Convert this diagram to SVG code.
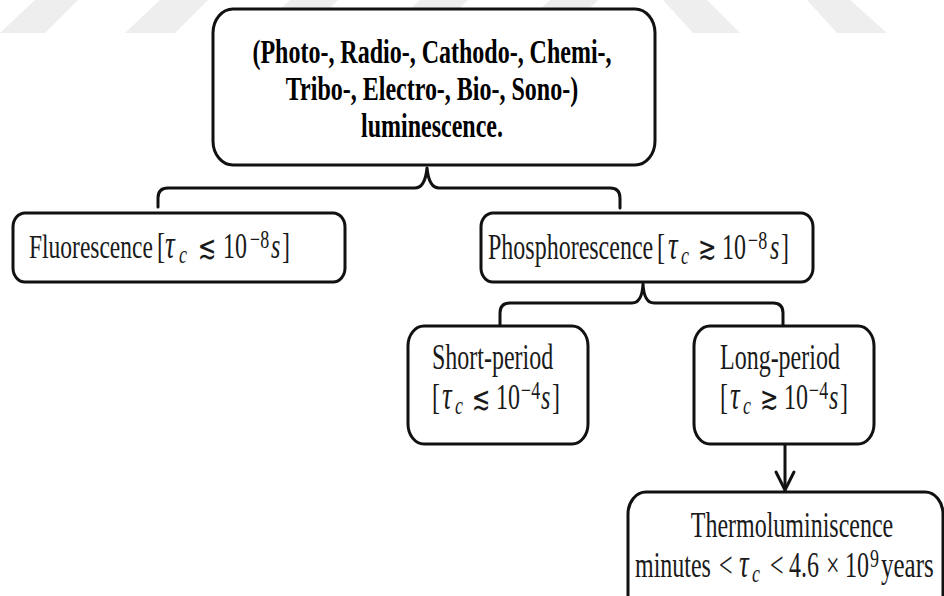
<svg xmlns="http://www.w3.org/2000/svg" width="944" height="596" viewBox="0 0 944 596">
<style>
.bg{fill:#ffffff}
.wm{fill:#eeeeee}
.box{fill:#ffffff;stroke:#111111;stroke-width:3}
.con{fill:none;stroke:#111111;stroke-width:3;stroke-linecap:round;stroke-linejoin:round}
.t{font-family:"Liberation Serif","DejaVu Serif",serif;font-size:24px;fill:#1a1a1a}
.b{font-weight:bold;fill:#000000}
.i{font-style:italic}
.tau{font-style:italic;font-size:27px}
.sub{font-size:18px;font-style:italic}
.sup{font-size:18px}
.rel{font-family:"DejaVu Sans",sans-serif;font-size:22px}
</style>
<rect class="bg" x="0" y="0" width="944" height="596"/>
<g id="watermark">
<polygon class="wm" points="35,0 78,0 45,33 0,33"/>
<polygon class="wm" points="160,0 208,0 175,33 125,33"/>
<polygon class="wm" points="290,0 338,0 305,33 255,33"/>
<polygon class="wm" points="420,0 468,0 435,33 385,33"/>
<polygon class="wm" points="550,0 598,0 565,33 515,33"/>
<polygon class="wm" points="663,0 707,0 740,33 693,33"/>
<polygon class="wm" points="807,0 850,0 887,33 837,33"/>
</g>
<g id="connectors">
<path class="con" d="M158,207 V198 Q158,188 168,188 H415 Q425,188 427,168 Q429,188 439,188 H610 Q620,188 620,198 V208"/>
<path class="con" d="M500,325 V313 Q500,303 510,303 H632 Q642,303 643,284 Q644,303 654,303 H773 Q783,303 783,313 V325"/>
<path class="con" d="M785,444 V490"/>
<path class="con" d="M776,472 L785,490 L794,472"/>
</g>
<g id="root">
<rect class="box" x="213" y="9" width="442" height="156" rx="20" ry="24"/>
<g transform="translate(432,63) scale(1,1.38)"><text class="t b" x="0" y="0" text-anchor="middle">(Photo-, Radio-, Cathodo-, Chemi-,</text></g>
<g transform="translate(432,100) scale(1,1.38)"><text class="t b" x="0" y="0" text-anchor="middle">Tribo-, Electro-, Bio-, Sono-)</text></g>
<g transform="translate(432,137) scale(1,1.38)"><text class="t b" x="0" y="0" text-anchor="middle">luminescence.</text></g>
</g>
<g id="fluorescence">
<rect class="box" x="13" y="213" width="332" height="69" rx="12" ry="14"/>
<g transform="translate(0,258) scale(1,1.45)"><text class="t" y="0"><tspan x="29" style="font-size:23.5px">Fluorescence</tspan><tspan x="157">[</tspan><tspan class="tau" x="165">τ</tspan><tspan class="sub" x="179" y="3.5">c</tspan><tspan class="rel" x="198" y="0">≲</tspan><tspan x="223">10</tspan><tspan class="sup" x="250" y="-7">−8</tspan><tspan class="i" x="271" y="0">s</tspan><tspan x="282">]</tspan></text></g>
</g>
<g id="phosphorescence">
<rect class="box" x="481" y="213" width="332" height="69" rx="12" ry="14"/>
<g transform="translate(0,259) scale(1,1.45)"><text class="t" y="0"><tspan x="488">Phosphorescence</tspan><tspan x="657">[</tspan><tspan class="tau" x="668">τ</tspan><tspan class="sub" x="681" y="3.5">c</tspan><tspan class="rel" x="698" y="0">≳</tspan><tspan x="722">10</tspan><tspan class="sup" x="748" y="-7">−8</tspan><tspan class="i" x="770" y="0">s</tspan><tspan x="781">]</tspan></text></g>
</g>
<g id="short-period">
<rect class="box" x="408" y="326" width="180" height="118" rx="16" ry="20"/>
<g transform="translate(0,369) scale(1,1.45)"><text class="t" x="432" y="0">Short-period</text></g>
<g transform="translate(0,409) scale(1,1.45)"><text class="t" y="0"><tspan x="432">[</tspan><tspan class="tau" x="442">τ</tspan><tspan class="sub" x="455" y="3.5">c</tspan><tspan class="rel" x="472" y="0">≲</tspan><tspan x="496">10</tspan><tspan class="sup" x="521" y="-7">−4</tspan><tspan class="i" x="541" y="0">s</tspan><tspan x="552">]</tspan></text></g>
</g>
<g id="long-period">
<rect class="box" x="694" y="326" width="180" height="118" rx="16" ry="20"/>
<g transform="translate(0,369) scale(1,1.45)"><text class="t" x="720" y="0">Long-period</text></g>
<g transform="translate(0,409) scale(1,1.45)"><text class="t" y="0"><tspan x="720">[</tspan><tspan class="tau" x="730">τ</tspan><tspan class="sub" x="743" y="3.5">c</tspan><tspan class="rel" x="760" y="0">≳</tspan><tspan x="784">10</tspan><tspan class="sup" x="809" y="-7">−4</tspan><tspan class="i" x="829" y="0">s</tspan><tspan x="840">]</tspan></text></g>
</g>
<g id="thermoluminiscence">
<rect class="box" x="628" y="492" width="315" height="140" rx="18" ry="22"/>
<g transform="translate(792,537) scale(1,1.45)"><text class="t" x="0" y="0" text-anchor="middle">Thermoluminiscence</text></g>
<g transform="translate(0,577) scale(1,1.45)"><text class="t" y="0"><tspan x="635">minutes</tspan><tspan x="719">&lt;</tspan><tspan class="tau" x="739">τ</tspan><tspan class="sub" x="752" y="3.5">c</tspan><tspan x="770" y="0">&lt;</tspan><tspan x="789">4.6</tspan><tspan x="826">×</tspan><tspan x="845">10</tspan><tspan class="sup" x="870" y="-7">9</tspan><tspan x="881" y="0" style="font-size:25px">years</tspan></text></g>
</g>
</svg>
